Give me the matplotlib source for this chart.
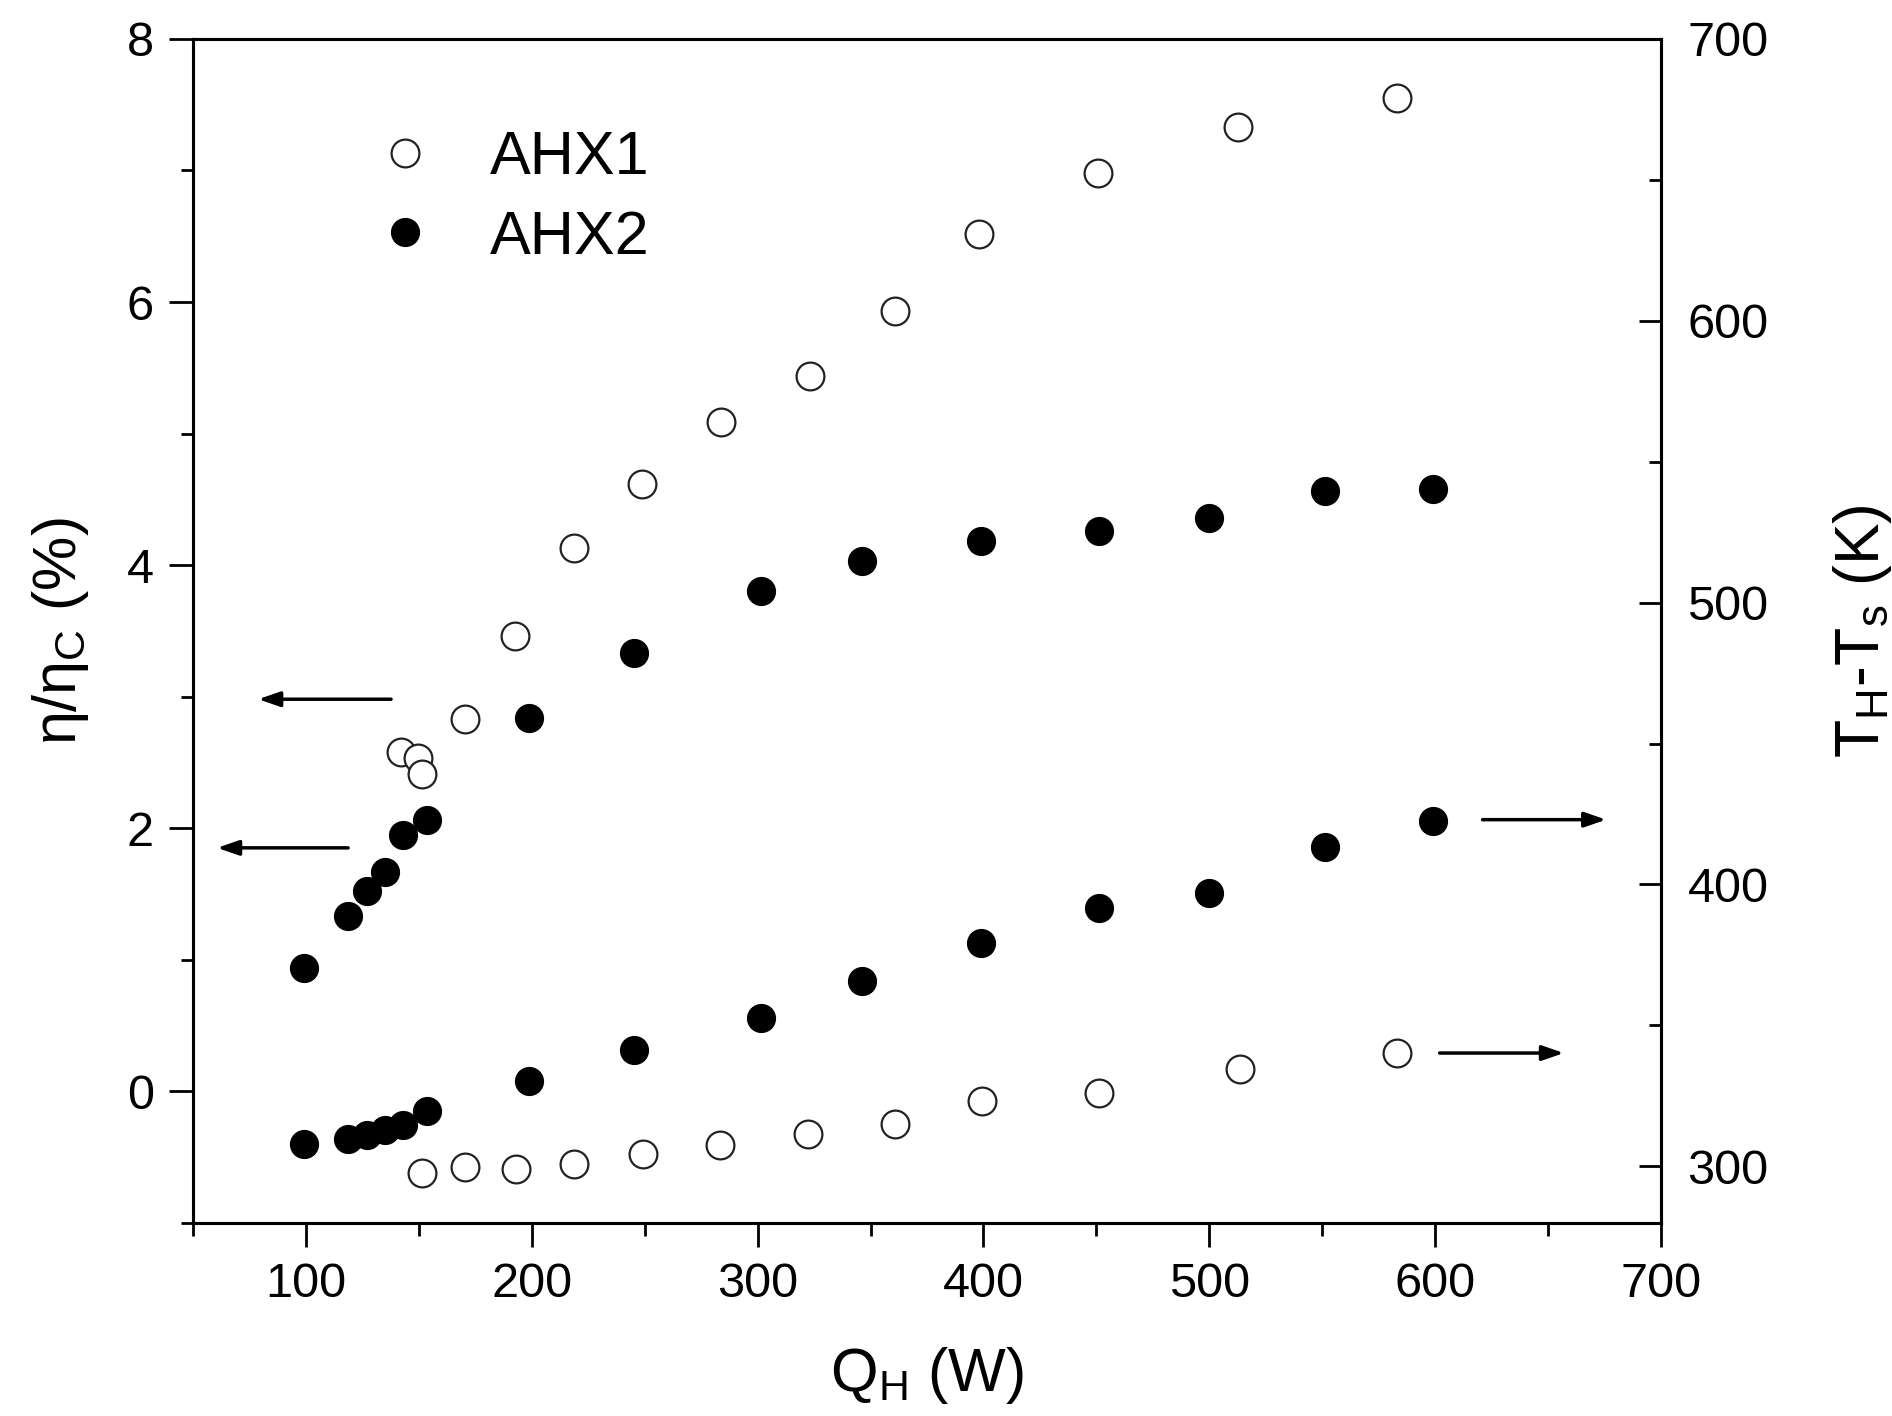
import matplotlib
matplotlib.use('Agg')
import matplotlib.pyplot as plt
from matplotlib.ticker import MultipleLocator

plt.rcParams['font.family'] = ['Liberation Sans', 'DejaVu Sans']
plt.rcParams['mathtext.fontset'] = 'custom'
plt.rcParams['mathtext.rm'] = 'Liberation Sans'
plt.rcParams['mathtext.it'] = 'Liberation Sans'

# AHX1 (open symbols)
q_ahx1_eff = [142.0, 149.8, 151.3, 170.4, 192.8, 218.6, 249.0, 283.8, 323.4, 360.8, 398.2, 450.6, 512.6, 583.2]
eff_ahx1 = [2.58, 2.53, 2.41, 2.83, 3.46, 4.13, 4.62, 5.09, 5.44, 5.93, 6.52, 6.98, 7.33, 7.55]
q_ahx1_dt = [151.6, 170.6, 192.9, 218.7, 249.1, 283.5, 322.5, 361.0, 399.2, 451.2, 513.8, 583.1]
dt_ahx1 = [297.8, 299.8, 299.2, 301.0, 304.3, 307.5, 311.6, 315.0, 323.1, 326.2, 334.5, 340.1]

# AHX2 (filled symbols)
q_ahx2 = [99.0, 118.8, 127.1, 135.0, 143.0, 153.6, 198.6, 245.1, 301.5, 346.1, 398.9, 451.2, 499.8, 551.1, 599.2]
eff_ahx2 = [0.94, 1.33, 1.52, 1.67, 1.95, 2.06, 2.84, 3.33, 3.80, 4.03, 4.18, 4.26, 4.36, 4.56, 4.58]
dt_ahx2 = [307.9, 309.6, 311.0, 312.8, 314.8, 319.5, 330.2, 341.2, 352.6, 365.8, 379.4, 391.7, 396.9, 413.3, 422.7]

# arrows: (tail x, head x, y, axis)
arrows = [(137.7, 78.9, 2.98, 'left'), (118.7, 60.7, 1.85, 'left'),
          (621.0, 675.7, 423.0, 'right'), (602.0, 657.0, 340.2, 'right')]

fig = plt.figure(figsize=(18.92, 14.16), dpi=100, facecolor='white')
ax = fig.add_axes([0.102, 0.1365, 0.7759, 0.836])
ax2 = ax.twinx()

ms = 20
ax.plot(q_ahx1_eff, eff_ahx1, 'o', ms=ms, mfc='white', mec='#222222', mew=1.6, ls='none')
ax.plot(q_ahx2, eff_ahx2, 'o', ms=ms, mfc='black', mec='black', ls='none')
h1, = ax2.plot(q_ahx1_dt, dt_ahx1, 'o', ms=ms, mfc='white', mec='#222222', mew=1.6, ls='none', label='AHX1')
h2, = ax2.plot(q_ahx2, dt_ahx2, 'o', ms=ms, mfc='black', mec='black', ls='none', label='AHX2')

ax.set_xlim(50, 700)
ax.set_ylim(-1, 8)
ax2.set_ylim(280, 700)

ax.xaxis.set_major_locator(MultipleLocator(100))
ax.xaxis.set_minor_locator(MultipleLocator(50))
ax.yaxis.set_major_locator(MultipleLocator(2))
ax.yaxis.set_minor_locator(MultipleLocator(1))
ax2.yaxis.set_major_locator(MultipleLocator(100))
ax2.yaxis.set_minor_locator(MultipleLocator(50))

ax.tick_params(axis='both', which='major', direction='out', length=17, width=2, labelsize=35, pad=11)
ax.tick_params(axis='both', which='minor', direction='out', length=9, width=2)
ax.tick_params(top=False, right=False, which='both')
ax2.tick_params(axis='y', which='major', direction='in', length=16, width=2, labelsize=35, pad=19)
ax2.tick_params(axis='y', which='minor', direction='in', length=9, width=2)

for a in (ax, ax2):
    for s in a.spines.values():
        s.set_linewidth(2.2)

ax.set_xlabel(r'Q$_\mathrm{H}$ (W)', fontsize=44, labelpad=28)
ax.set_ylabel(r'$\eta/\eta_\mathrm{C}$ (%)', fontsize=44, labelpad=26)
ax2.set_ylabel(r'T$_\mathrm{H}$-T$_\mathrm{s}$ (K)', fontsize=45, labelpad=45)

for tail, head, y, side in arrows:
    target = ax if side == 'left' else ax2
    target.annotate('', xy=(head, y), xytext=(tail, y),
                    arrowprops=dict(arrowstyle='-|>,head_length=1.3,head_width=0.45',
                                    lw=2.5, color='black', shrinkA=0, shrinkB=0))

ax2.legend(handles=[h1, h2], loc='upper left', bbox_to_anchor=(0.1233, 0.923),
           frameon=False, fontsize=44, handlelength=1.0, handletextpad=0.9,
           labelspacing=0.37, borderpad=0, borderaxespad=0, numpoints=1)

fig.savefig('out.png', dpi=100, facecolor='white')
